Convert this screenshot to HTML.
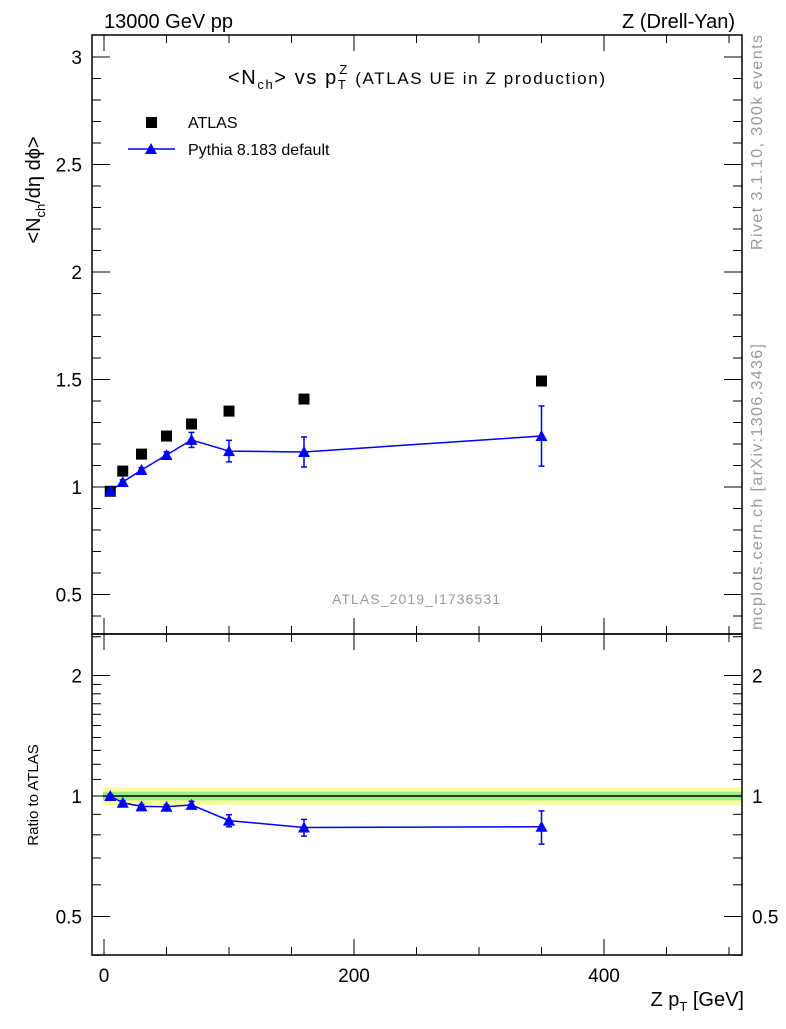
<!DOCTYPE html>
<html><head><meta charset="utf-8"><style>
body{margin:0;background:#fff}
svg text{font-family:"Liberation Sans",sans-serif}
</style></head><body>
<svg id="c" width="786" height="1024" xmlns="http://www.w3.org/2000/svg">
<text x="104" y="28" font-size="20">13000 GeV pp</text>
<text x="735" y="28" font-size="20" text-anchor="end">Z (Drell-Yan)</text>
<text x="228" y="84" font-size="20" textLength="377" lengthAdjust="spacing">&lt;N<tspan font-size="13" dy="5">ch</tspan><tspan dy="-5">&gt; vs p</tspan><tspan font-size="13" dy="5">T</tspan><tspan font-size="13" dy="-15" dx="-8">Z</tspan><tspan font-size="17" dy="10"> (ATLAS UE in Z production)</tspan></text>
<text x="332" y="604" font-size="14" fill="#999" textLength="168">ATLAS_2019_I1736531</text>
<text transform="translate(762,250) rotate(-90)" font-size="16" fill="#999" textLength="215">Rivet 3.1.10,  300k events</text>
<text transform="translate(762,630) rotate(-90)" font-size="16" fill="#999" textLength="286">mcplots.cern.ch [arXiv:1306.3436]</text>
<text transform="translate(40,190) rotate(-90)" font-size="20" text-anchor="middle">&lt;N<tspan font-size="13" dy="5">ch</tspan><tspan dy="-5">/dη dϕ&gt;</tspan></text>
<text transform="translate(38,795) rotate(-90)" font-size="15" text-anchor="middle">Ratio to ATLAS</text>
<text x="744" y="1006" font-size="20" text-anchor="end">Z p<tspan font-size="13" dy="5">T</tspan><tspan dy="-5"> [GeV]</tspan></text>
<rect x="146" y="117" width="11" height="11" fill="#000"/>
<text x="188" y="128" font-size="16">ATLAS</text>
<line x1="128" y1="149" x2="175" y2="149" stroke="#00f" stroke-width="1.5"/>
<polygon points="151,143 157,154 145,154" fill="#00f"/>
<text x="188" y="155" font-size="16">Pythia 8.183 default</text>
<g id="g"></g>
</svg>
<script>
const xs=[5,15,30,50,70,100,160,350];
const atlas=[0.98,1.074,1.153,1.237,1.293,1.353,1.409,1.493];
const pythia=[0.98,1.023,1.079,1.149,1.219,1.167,1.163,1.237];
const pyErr=[0.01,0.01,0.01,0.015,0.035,0.05,0.07,0.14];
const ratio=[1.0,0.962,0.942,0.94,0.95,0.868,0.834,0.838];
const ratioErr=[0.01,0.01,0.01,0.01,0.02,0.03,0.04,0.08];
const xTicks=[0,200,400];
const yTicks=[0.5,1,1.5,2,2.5,3];
const rTicks=[0.5,1,2];
const NS="http://www.w3.org/2000/svg";
const g=document.getElementById('g');
const L=92,R=742,T=35,M=634,B=955;
const X=v=>104+v*1.25;
const Y=v=>487-(v-1)*215;
const RY=v=>796-Math.log2(v)*120.5;
function el(t,a,p){const e=document.createElementNS(NS,t);for(const k in a)e.setAttribute(k,a[k]);(p||g).appendChild(e);return e;}
let b1=el('rect',{x:103,y:RY(1.05),width:R-103,height:RY(0.95)-RY(1.05),fill:'#ffff99'});


let b2=el('rect',{x:103,y:RY(1.025),width:R-103,height:RY(0.975)-RY(1.025),fill:'#99ee88'});


let ref=el('line',{x1:103,x2:R,y1:RY(1),y2:RY(1),stroke:'#000','stroke-width':1.5});


let f1=el('rect',{x:L,y:T,width:R-L,height:M-T,fill:'none',stroke:'#000','stroke-width':1.5});


let f2=el('rect',{x:L,y:M,width:R-L,height:B-M,fill:'none',stroke:'#000','stroke-width':1.5});


for(let v=0;v<=500;v+=50){const big=v%200==0,len=big?16:8;
 for(const [y0,d] of [[M,-1],[B,-1],[T,1],[M,1]]){el('line',{x1:X(v),x2:X(v),y1:y0,y2:y0+d*len,stroke:'#000'});}}
xTicks.forEach(v=>{const t=el('text',{x:X(v),y:982,'font-size':19,'text-anchor':'middle'});t.textContent=v;

});
for(let i=4;i<=30;i++){const v=i/10,big=i%5==0,len=big?18:9;
 el('line',{x1:L,x2:L+len,y1:Y(v),y2:Y(v),stroke:'#000'});el('line',{x1:R,x2:R-len,y1:Y(v),y2:Y(v),stroke:'#000'});}
yTicks.forEach(v=>{const t=el('text',{x:82,y:Y(v)+7,'font-size':19,'text-anchor':'end'});t.textContent=v;

});
for(let i=4;i<=25;i++){const v=i/10;const big=(i==5||i==10||i==20),len=big?18:9;
 if(i>20&&i!=25)continue;
 el('line',{x1:L,x2:L+len,y1:RY(v),y2:RY(v),stroke:'#000'});el('line',{x1:R,x2:R-len,y1:RY(v),y2:RY(v),stroke:'#000'});}
rTicks.forEach(v=>{for(const [x,a] of [[82,'end'],[752,'start']]){const t=el('text',{x:x,y:RY(v)+7,'font-size':19,'text-anchor':a});t.textContent=v;

}});
function tri(cx,cy,n){const p=el('polygon',{points:`${cx},${cy-6} ${cx+6},${cy+5} ${cx-6},${cy+5}`,fill:'#00f'});

}
let pl=el('polyline',{points:xs.map((x,i)=>X(x)+','+Y(pythia[i])).join(' '),fill:'none',stroke:'#00f','stroke-width':1.5});


let rl=el('polyline',{points:xs.map((x,i)=>X(x)+','+RY(ratio[i])).join(' '),fill:'none',stroke:'#00f','stroke-width':1.5});


xs.forEach((x,i)=>{
 const s=el('rect',{x:X(x)-5.5,y:Y(atlas[i])-5.5,width:11,height:11,fill:'#000'});
 
 
 const y1=Y(pythia[i]+pyErr[i]),y2=Y(pythia[i]-pyErr[i]);
 el('line',{x1:X(x),x2:X(x),y1:y1,y2:y2,stroke:'#00f','stroke-width':1.5});
 el('line',{x1:X(x)-3,x2:X(x)+3,y1:y1,y2:y1,stroke:'#00f','stroke-width':1.5});
 el('line',{x1:X(x)-3,x2:X(x)+3,y1:y2,y2:y2,stroke:'#00f','stroke-width':1.5});
 tri(X(x),Y(pythia[i]),'pythia-point');
 const r1=RY(ratio[i]+ratioErr[i]),r2=RY(ratio[i]-ratioErr[i]);
 el('line',{x1:X(x),x2:X(x),y1:r1,y2:r2,stroke:'#00f','stroke-width':1.5});
 el('line',{x1:X(x)-3,x2:X(x)+3,y1:r1,y2:r1,stroke:'#00f','stroke-width':1.5});
 el('line',{x1:X(x)-3,x2:X(x)+3,y1:r2,y2:r2,stroke:'#00f','stroke-width':1.5});
 tri(X(x),RY(ratio[i]),'ratio-point');
});
</script>
</body></html>
